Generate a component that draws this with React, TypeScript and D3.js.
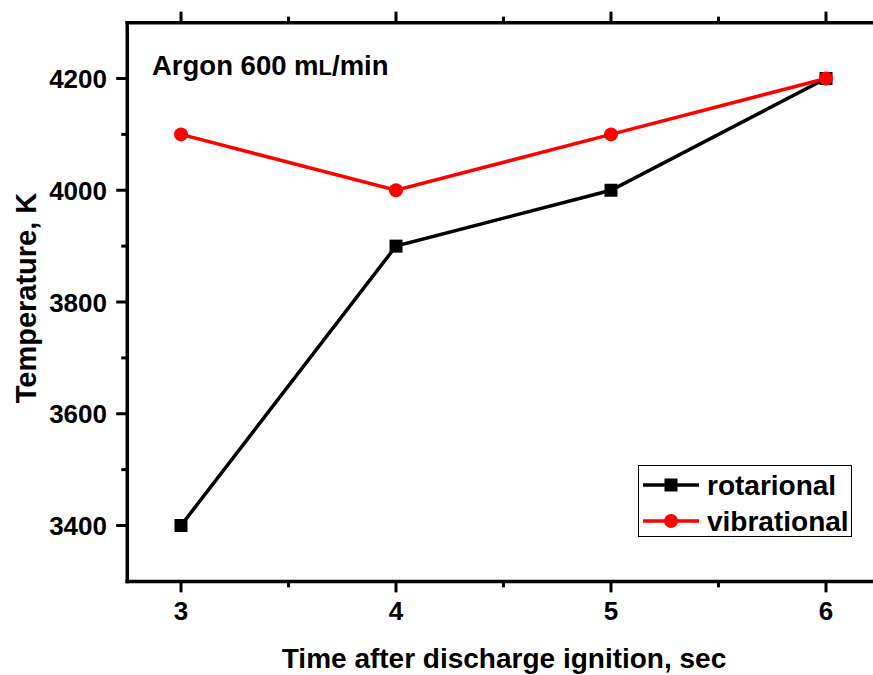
import React from "react";
import * as d3 from "d3";

const times = [3, 4, 5, 6];
const rotational = [3400, 3900, 4000, 4200];
const vibrational = [4100, 4000, 4100, 4200];
const xMajorTicks = [3, 4, 5, 6];
const xMinorTicks = [3.5, 4.5, 5.5];
const yMajorTicks = [3400, 3600, 3800, 4000, 4200];
const yMinorTicks = [3500, 3700, 3900, 4100];
const seriesNames = ["rotarional", "vibrational"];

const W = 873;
const H = 675;
const FONT = "'Liberation Sans', Arial, Helvetica, sans-serif";

export default function App() {
  const x = d3.scaleLinear().domain([3, 4]).range([181, 396]);
  const y = d3.scaleLinear().domain([3400, 4200]).range([525.5, 78.5]);
  const left = x(2.75);
  const right = 880;
  const top = y(4300);
  const bottom = y(3300);

  const line = d3
    .line<number>()
    .x((_, i) => x(times[i]))
    .y((d) => y(d));

  const sq = 13;
  const legendRows = [485, 521];

  return (
    <svg
      width={W}
      height={H}
      style={{ position: "absolute", left: 0, top: 0, background: "#fff" }}
      fontFamily={FONT}
      fontWeight="bold"
    >
      <rect x={0} y={0} width={W} height={H} fill="#fff" />
      {/* data lines */}
      <path d={line(rotational) || ""} fill="none" stroke="#000" strokeWidth={3.5} />
      <path d={line(vibrational) || ""} fill="none" stroke="#ff0000" strokeWidth={3.5} />
      {rotational.map((v, i) => (
        <rect key={"r" + i} x={x(times[i]) - sq / 2} y={y(v) - sq / 2} width={sq} height={sq} fill="#000" />
      ))}
      {vibrational.map((v, i) => (
        <circle key={"v" + i} cx={x(times[i])} cy={y(v)} r={7} fill="#ff0000" />
      ))}

      {/* frame */}
      <line x1={left} x2={left} y1={top - 1.75} y2={bottom + 1.75} stroke="#000" strokeWidth={3.5} />
      <line x1={left - 1.75} x2={right} y1={bottom} y2={bottom} stroke="#000" strokeWidth={3.5} />
      <line x1={left - 1.75} x2={right} y1={top} y2={top} stroke="#000" strokeWidth={3.5} />

      {/* x ticks bottom & top */}
      {xMajorTicks.map((t) => (
        <g key={"xt" + t}>
          <line x1={x(t)} x2={x(t)} y1={bottom} y2={bottom + 11} stroke="#000" strokeWidth={3} />
          <line x1={x(t)} x2={x(t)} y1={top} y2={top - 11} stroke="#000" strokeWidth={3} />
          <text x={x(t)} y={620} textAnchor="middle" fontSize={26} fill="#000">
            {t}
          </text>
        </g>
      ))}
      {xMinorTicks.map((t) => (
        <g key={"xm" + t}>
          <line x1={x(t)} x2={x(t)} y1={bottom} y2={bottom + 6} stroke="#000" strokeWidth={3} />
          <line x1={x(t)} x2={x(t)} y1={top} y2={top - 6} stroke="#000" strokeWidth={3} />
        </g>
      ))}

      {/* y ticks */}
      {yMajorTicks.map((t) => (
        <g key={"yt" + t}>
          <line x1={left} x2={left - 11} y1={y(t)} y2={y(t)} stroke="#000" strokeWidth={3} />
          <text x={107} y={y(t) + 9.5} textAnchor="end" fontSize={26} fill="#000">
            {t}
          </text>
        </g>
      ))}
      {yMinorTicks.map((t) => (
        <line key={"ym" + t} x1={left} x2={left - 6} y1={y(t)} y2={y(t)} stroke="#000" strokeWidth={3} />
      ))}

      {/* axis titles */}
      <text x={504} y={668} textAnchor="middle" fontSize={28} fill="#000">
        Time after discharge ignition, sec
      </text>
      <text
        transform={`translate(36, 298) rotate(-90)`}
        textAnchor="middle"
        fontSize={29}
        fill="#000"
      >
        Temperature, K
      </text>

      {/* annotation */}
      <text x={152} y={75} fontSize={27.5} fill="#000">
        Argon 600 m<tspan fontSize={22}>L</tspan>/min
      </text>

      {/* legend */}
      <rect x={638.5} y={465.5} width={213} height={71} fill="#fff" stroke="#000" strokeWidth={1} />
      {seriesNames.map((name, i) => {
        const cy = legendRows[i];
        const color = i === 0 ? "#000" : "#ff0000";
        return (
          <g key={name}>
            <line x1={643} x2={699} y1={cy} y2={cy} stroke={color} strokeWidth={3.5} />
            {i === 0 ? (
              <rect x={671 - sq / 2} y={cy - sq / 2} width={sq} height={sq} fill={color} />
            ) : (
              <circle cx={671} cy={cy} r={7} fill={color} />
            )}
            <text x={707} y={cy + 10} fontSize={28} fill="#000">
              {name}
            </text>
          </g>
        );
      })}
    </svg>
  );
}
